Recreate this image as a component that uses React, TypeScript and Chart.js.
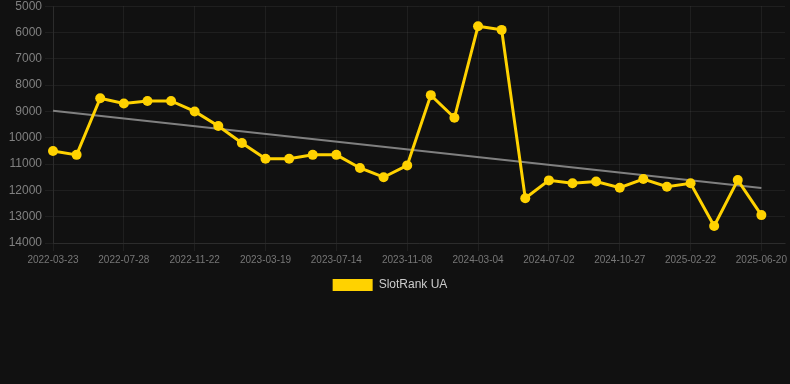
import React, { useEffect, useRef } from "react";
import { Chart, registerables } from "chart.js";

Chart.register(...registerables);

const dates: string[] = [
  "2022-03-23", "2022-05-04", "2022-06-15",
  "2022-07-28", "2022-09-06", "2022-10-14",
  "2022-11-22", "2023-01-01", "2023-02-08",
  "2023-03-19", "2023-04-27", "2023-06-05",
  "2023-07-14", "2023-08-22", "2023-09-30",
  "2023-11-08", "2023-12-17", "2024-01-25",
  "2024-03-04", "2024-04-12", "2024-05-23",
  "2024-07-02", "2024-08-10", "2024-09-18",
  "2024-10-27", "2024-12-05", "2025-01-13",
  "2025-02-22", "2025-04-02", "2025-05-11",
  "2025-06-20", "",
];

const rankValues: (number | null)[] = [
  10500, 10650, 8500, 8700, 8600, 8600, 9000, 9550, 10200, 10800,
  10800, 10650, 10650, 11150, 11500, 11050, 8380, 9240, 5760, 5900,
  12300, 11620, 11730, 11660, 11900, 11570, 11860, 11730, 13355, 11610,
  12940, null,
];

const trendStart = 8975;
const trendEnd = 11910;

const yTicks = { min: 5000, max: 14000, step: 1000 };

const seriesLabel = "SlotRank UA";

export default function App() {
  const canvasRef = useRef<HTMLCanvasElement | null>(null);

  useEffect(() => {
    if (!canvasRef.current) return;
    const lastIdx = rankValues.length - 2;
    const trendValues: (number | null)[] = rankValues.map((_, i) =>
      i === 0 ? trendStart : i === lastIdx ? trendEnd : null
    );
    const font = "Arial, 'Liberation Sans', Helvetica, sans-serif";
    const gridColor = "rgba(255,255,255,0.06)";
    const legendShift = {
      id: "legendShift",
      afterLayout(ch: any) {
        if (ch.legend) {
          ch.legend.left -= 4;
          ch.legend.right -= 4;
        }
      },
    };
    const chart = new Chart(canvasRef.current, {
      type: "line",
      data: {
        labels: dates,
        datasets: [
          {
            label: seriesLabel,
            data: rankValues,
            borderColor: "#FFD200",
            backgroundColor: "#FFD200",
            pointBackgroundColor: "#FFD200",
            pointBorderColor: "#FFD200",
            borderWidth: 3,
            pointRadius: 5,
            pointBorderWidth: 0,
            tension: 0,
          },
          {
            label: "trend",
            data: trendValues,
            borderColor: "#808080",
            backgroundColor: "#808080",
            borderWidth: 2,
            pointRadius: 0,
            spanGaps: true,
          },
        ],
      },
      options: {
        animation: false,
        responsive: true,
        maintainAspectRatio: false,
        layout: { padding: { left: 0, right: 2, top: 0, bottom: 0 } },
        plugins: {
          legend: {
            position: "bottom",
            labels: {
              color: "#cccccc",
              font: { family: font, size: 12 },
              boxWidth: 40,
              boxHeight: 12,
              filter: (item) => item.text === seriesLabel,
              generateLabels: (ch) =>
                Chart.defaults.plugins.legend.labels
                  .generateLabels(ch)
                  .map((it) => ({ ...it, lineWidth: 0 })),
            },
          },
          tooltip: { enabled: false },
        },
        scales: {
          x: {
            ticks: {
              autoSkip: false,
              maxRotation: 0,
              color: "#777777",
              font: { family: font, size: 10 },
              callback: (_v, i) => (i % 3 === 0 ? dates[i] : ""),
            },
            grid: {
              color: (ctx) => (ctx.index % 3 === 0 ? gridColor : "rgba(0,0,0,0)"),
              tickColor: (ctx) => (ctx.index % 3 === 0 ? gridColor : "rgba(0,0,0,0)"),
            },
            border: { color: gridColor },
          },
          y: {
            reverse: true,
            min: yTicks.min,
            max: yTicks.max,
            ticks: {
              stepSize: yTicks.step,
              color: "#808080",
              font: { family: font, size: 12 },
              callback: (v) => String(v),
            },
            grid: { color: gridColor, tickColor: gridColor },
            border: { color: gridColor },
            afterFit: (scale) => {
              scale.width = 53;
            },
          },
        },
      },
      plugins: [legendShift],
    });
    return () => chart.destroy();
  }, []);

  return (
    <div
      style={{
        position: "absolute",
        left: 0,
        top: 0,
        width: 790,
        height: 384,
        background: "#111111",
        overflow: "hidden",
      }}
    >
      <div style={{ position: "absolute", left: 0, top: -4, width: 790, height: 305 }}>
        <canvas ref={canvasRef} />
      </div>
    </div>
  );
}
